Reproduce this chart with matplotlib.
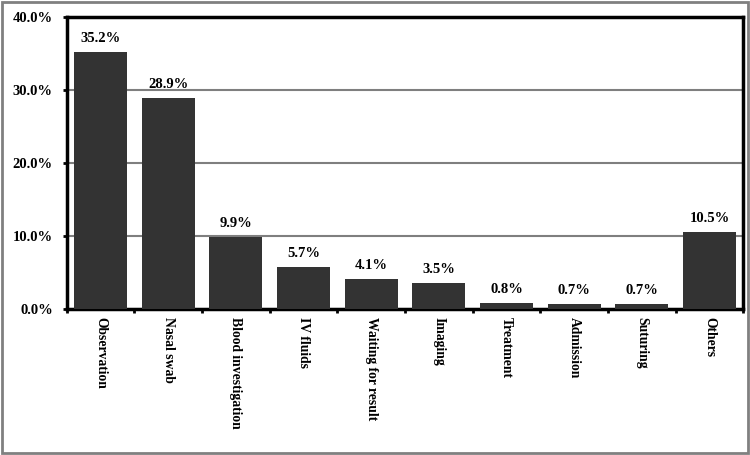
import numpy as np
import matplotlib.pyplot as plt
import matplotlib.ticker as ticker
from matplotlib.patches import Rectangle

# ── Data ──────────────────────────────────────────────────────────────────────
categories = ["Observation", "Nasal swab", "Blood investigation", "IV fluids",
              "Waiting for result", "Imaging", "Treatment", "Admission",
              "Suturing", "Others"]
shares = [35.2, 28.9, 9.9, 5.7, 4.1, 3.5, 0.8, 0.7, 0.7, 10.5]
y_ticks = [0, 10, 20, 30, 40]

BAR = "#333333"
GRID = "#7f7f7f"

plt.rcParams["font.family"] = ["Liberation Serif", "DejaVu Serif"]
plt.rcParams["font.weight"] = "bold"

fig = plt.figure(figsize=(7.5, 4.55), dpi=100)
ax = fig.add_axes([0.089, 0.321, 0.902, 0.642])

x = np.arange(len(categories))
ax.bar(x, shares, width=0.78, color=BAR, zorder=3)

for xi, v in zip(x, shares):
    ax.annotate(f"{v:.1f}%", xy=(xi, v), xytext=(0, 5), textcoords="offset points",
                ha="center", va="bottom", fontsize=10.5, fontweight="bold")

# ── Axes ──────────────────────────────────────────────────────────────────────
ax.set_xlim(-0.5, len(categories) - 0.5)
ax.set_ylim(0, 40)
ax.set_yticks(y_ticks)
ax.yaxis.set_major_formatter(ticker.FuncFormatter(lambda v, _: f"{v:.1f}%"))
ax.yaxis.grid(True, color=GRID, linewidth=1.5, zorder=0)

ax.set_xticks(x)
ax.set_xticklabels(categories, rotation=-90, fontsize=9.8, fontweight="bold",
                   va="top", ha="center")
ax.set_xticks(np.arange(-0.5, len(categories)), minor=True)
ax.tick_params(axis="x", which="major", length=0, pad=6)
ax.tick_params(axis="x", which="minor", length=3, width=2, direction="out")
ax.tick_params(axis="y", length=3, width=2, labelsize=10.5, pad=7)
for lab in ax.get_yticklabels():
    lab.set_fontweight("bold")

for spine in ax.spines.values():
    spine.set_linewidth(2.5)
    spine.set_color("black")

# outer frame
fig.patches.append(Rectangle((0.003, 0.004), 0.994, 0.992, transform=fig.transFigure,
                             fill=False, edgecolor="#808080", linewidth=2))

fig.savefig("out.png", dpi=100, facecolor="white")
